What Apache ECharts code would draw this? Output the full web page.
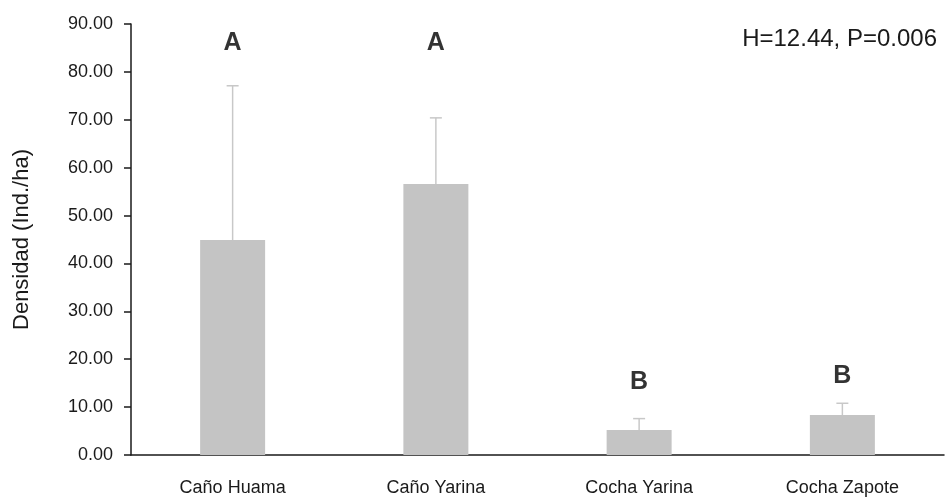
<!DOCTYPE html>
<html><head><meta charset="utf-8">
<script src="https://cdn.jsdelivr.net/npm/echarts@6/dist/echarts.min.js"></script>
<style>html,body{margin:0;padding:0;background:#fff}#c{width:946px;height:498px}</style>
</head><body><div id="c"></div>
<script>
var categories = ['Caño Huama', 'Caño Yarina', 'Cocha Yarina', 'Cocha Zapote'];
var means = [44.9, 56.6, 5.2, 8.35];
var errorTops = [77.1, 70.4, 7.6, 10.8];
var groupLetters = ['A', 'A', 'B', 'B'];
var letterY = [86.0, 86.0, 15.2, 16.5];
var statText = 'H=12.44, P=0.006';
var FONT = '"Liberation Sans", Arial, sans-serif';

var chart = echarts.init(document.getElementById('c'), null, {renderer: 'canvas'});
chart.setOption({
  animation: false,
  grid: {left: 131, right: 2, top: 24, bottom: 43},
  title: {
    text: statText, right: 4, top: 22,
    textStyle: {fontFamily: FONT, fontSize: 24, fontWeight: 'normal', color: '#1a1a1a'}
  },
  xAxis: {
    type: 'category', data: categories,
    axisLine: {lineStyle: {color: '#1a1a1a', width: 1.5}},
    axisTick: {show: false},
    axisLabel: {margin: 24, fontFamily: FONT, fontSize: 18, color: '#1a1a1a'}
  },
  yAxis: {
    type: 'value', min: 0, max: 90, interval: 10,
    name: 'Densidad (Ind./ha)', nameLocation: 'middle', nameGap: 98,
    nameTextStyle: {fontFamily: FONT, fontSize: 22, color: '#1a1a1a'},
    axisLine: {show: true, lineStyle: {color: '#1a1a1a', width: 1.5}},
    axisTick: {show: true, length: 7, lineStyle: {color: '#1a1a1a', width: 1.5}},
    splitLine: {show: false},
    axisLabel: {margin: 18, fontFamily: FONT, fontSize: 18, color: '#1a1a1a',
      formatter: function (v) { return v.toFixed(2); }}
  },
  series: [
    {
      type: 'bar', data: means, barWidth: 65,
      itemStyle: {color: '#c4c4c4'}, z: 2
    },
    {
      type: 'custom', z: 1,
      data: means.map(function (m, i) { return [i, m, errorTops[i]]; }),
      renderItem: function (params, api) {
        var lo = api.coord([api.value(0), api.value(1)]);
        var hi = api.coord([api.value(0), api.value(2)]);
        var hw = 6;
        return {
          type: 'group',
          children: [
            {type: 'line', shape: {x1: hi[0], y1: hi[1], x2: lo[0], y2: lo[1]},
             style: {stroke: '#c8c8c8', lineWidth: 1.5}},
            {type: 'line', shape: {x1: hi[0] - hw, y1: hi[1], x2: hi[0] + hw, y2: hi[1]},
             style: {stroke: '#c8c8c8', lineWidth: 1.5}}
          ]
        };
      }
    },
    {
      type: 'scatter', symbolSize: 0, silent: true,
      data: letterY.map(function (y, i) { return [i, y]; }),
      label: {
        show: true, position: 'inside',
        formatter: function (p) { return groupLetters[p.dataIndex]; },
        fontFamily: FONT, fontSize: 25, fontWeight: 'bold', color: '#000'
      }
    }
  ]
});
</script></body></html>
